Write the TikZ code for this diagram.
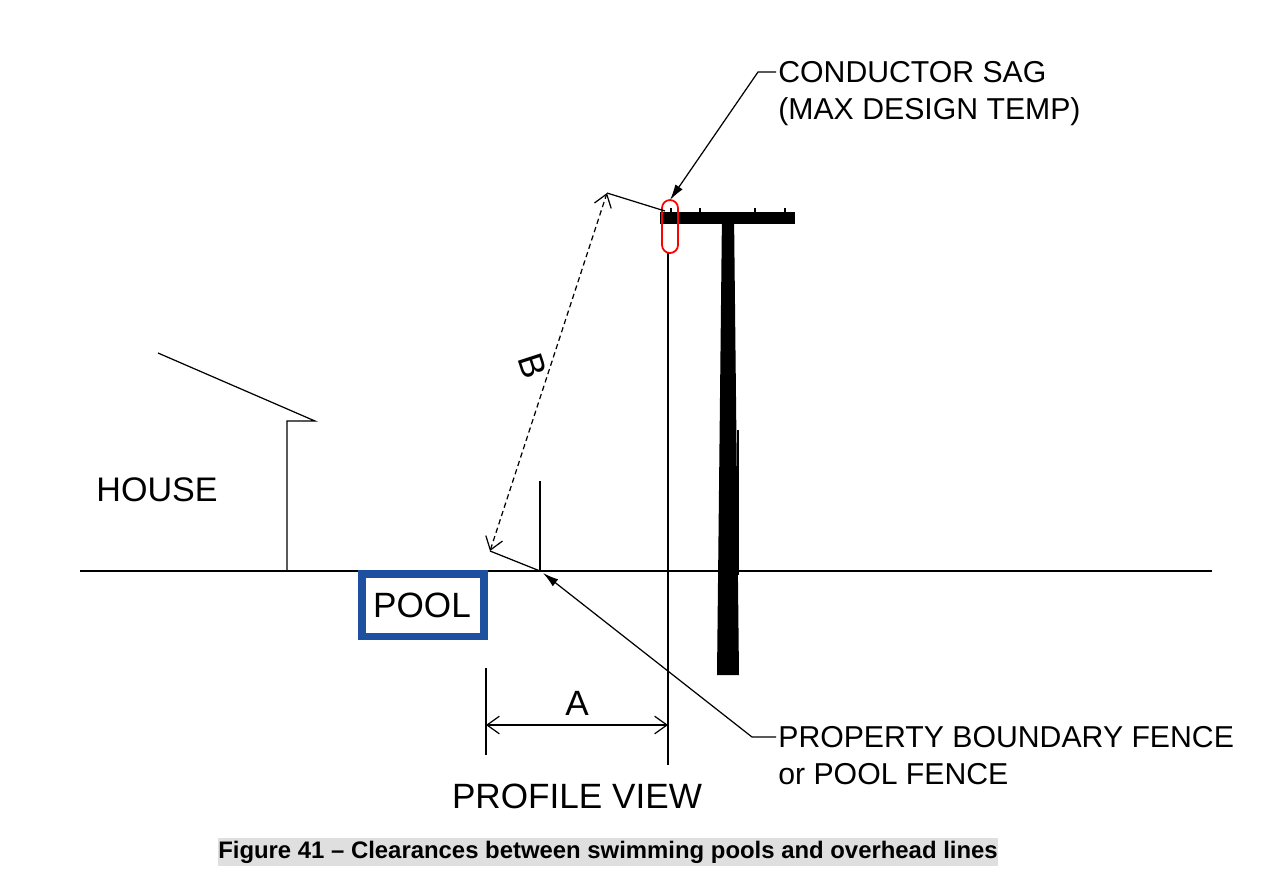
\documentclass[tikz,border=0pt]{standalone}
\usepackage{fontspec}
\setmainfont{Liberation Sans}
\usetikzlibrary{arrows.meta}
\begin{document}
\begin{tikzpicture}[x=0.02cm,y=-0.02cm,
  lbl/.style={font=\fontsize{20}{24}\selectfont,inner sep=0pt},
  side/.style={font=\fontsize{17.2}{21}\selectfont,inner sep=0pt,anchor=north west,align=left},
  thin line/.style={line width=0.7pt},
  dimline/.style={line width=0.7pt,densely dashed,{Straight Barb[length=7pt,width=10pt]}-{Straight Barb[length=7pt,width=10pt]}},
  leader/.style={line width=0.7pt,-{Latex[length=9pt,width=5pt]}}]
\useasboundingbox (0,0) rectangle (1272,894);
% ground
\draw[thin line] (80,571) -- (1212,571);
% house
\draw[thin line] (287,571) -- (287,421) -- (315,421) -- (158,353);
\node[lbl,font=\fontsize{19.4}{24}\selectfont] (house) at (157,490) {HOUSE};
% pool
\draw[line width=4pt,draw={rgb,255:red,30;green,80;blue,160}] (362,574) rectangle (484,636);
\node[lbl] (pool) at (422,605) {POOL};
% fence
\coordinate (fb) at (540,571);
\draw[thin line] (540,481) -- (fb);
% pole
\fill (722,212) -- (734,212) -- (739,675) -- (717,675) -- cycle;
\draw[line width=1pt] (738,430) -- (738,575);
\draw[line width=7pt] (660,218) -- (795,218);
\foreach \x in {671,700,755,785} \draw[line width=1.2pt] (\x,218) -- (\x,208);
% conductor
\draw[thin line] (668,252) -- (668,765);
\draw[red,line width=1pt] (662,208) -- (662,245) arc(180:0:8) -- (678,208) arc(0:-180:8) -- cycle;
\coordinate (cs) at (670,200);
% B dimension
\coordinate (b1) at (490,551);
\coordinate (b2) at (607,193);
\draw[dimline] (b1) -- (b2);
\draw[thin line] (b1) -- (fb);
\draw[thin line] (b2) -- (665,211);
\node[lbl,rotate=-72] (B) at (533,366) {B};
% A dimension
\draw[thin line] (486,668) -- (486,755);
\coordinate (a1) at (486,725);
\coordinate (a2) at (668,725);
\draw[line width=0.7pt,{Straight Barb[length=7pt,width=10pt]}-{Straight Barb[length=7pt,width=10pt]}] (a1) -- (a2);
\node[lbl] (A) at (577,703) {A};
\node[lbl] (pv) at (577,796) {PROFILE VIEW};
% leaders
\node[side] (sag) at (778,61) {CONDUCTOR SAG\\(MAX DESIGN TEMP)};
\draw[leader] (776,72) -- (758,72) -- (cs);
\node[side] (fence) at (778,726) {PROPERTY BOUNDARY FENCE\\or POOL FENCE};
\draw[leader] (776,737) -- (752,737) -- (543,573);
% caption
\fill[gray!25] (218,838) rectangle (998,866);
\node[font=\fontsize{13.6}{16}\selectfont\bfseries,inner sep=0pt] (cap) at (608,852) {Figure 41 – Clearances between swimming pools and overhead lines};
\end{tikzpicture}
\end{document}
